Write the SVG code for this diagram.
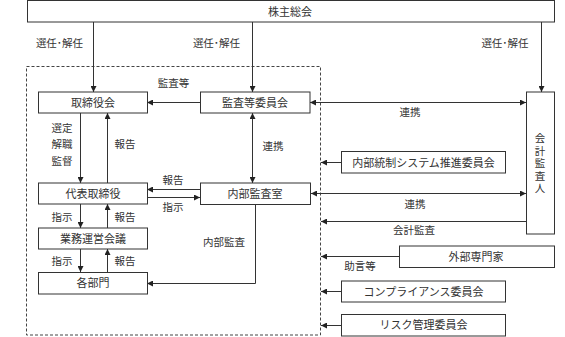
<svg xmlns="http://www.w3.org/2000/svg" width="565" height="337" viewBox="0 0 565 337">
<defs>
<marker id="ah" viewBox="0 0 6 6" refX="6" refY="3" markerWidth="6" markerHeight="6" markerUnits="userSpaceOnUse" orient="auto-start-reverse">
<path d="M0,0 L6,3 L0,6 z" fill="#222"/>
</marker>
<style>
.box{fill:#fff;stroke:#333;stroke-width:1}
.t{font-family:"Noto Sans CJK JP","Noto Sans CJK SC",sans-serif;font-size:11px;fill:#333;text-anchor:middle}
.l{font-family:"Noto Sans CJK JP","Noto Sans CJK SC",sans-serif;font-size:10.5px;fill:#333;text-anchor:middle}
.v{font-family:"Noto Sans CJK JP","Noto Sans CJK SC",sans-serif;font-size:10.5px;fill:#333;writing-mode:vertical-rl;letter-spacing:2px}
.c{fill:none;stroke:#333;stroke-width:1}
.a{marker-end:url(#ah)}
.b{marker-start:url(#ah);marker-end:url(#ah)}
.dash{fill:none;stroke:#444;stroke-width:1;stroke-dasharray:3 2}
</style>
</defs>
<rect width="565" height="337" fill="#fff"/>
<rect class="dash" x="26.5" y="66.5" width="294" height="268.5"/>

<g id="connectors">
<path class="c a" d="M93.5,22 V92"/>
<path class="c a" d="M252.5,22 V92"/>
<path class="c a" d="M541.5,22 V92"/>
<path class="c a" d="M200,102.5 H147"/>
<path class="c b" d="M310,102.5 H526"/>
<path class="c a" d="M80.5,113 V183"/>
<path class="c a" d="M107.5,183 V113"/>
<path class="c b" d="M252.5,113 V183"/>
<path class="c a" d="M200,189.5 H147"/>
<path class="c a" d="M147,197.5 H200"/>
<path class="c b" d="M311,193.5 H526"/>
<path class="c a" d="M341,162.5 H321"/>
<path class="c a" d="M526,221.5 H321"/>
<path class="c a" d="M399,256.5 H321"/>
<path class="c a" d="M341,291.5 H321"/>
<path class="c a" d="M341,325.5 H321"/>
<path class="c a" d="M80.5,204 V228"/>
<path class="c a" d="M107.5,228 V204"/>
<path class="c a" d="M80.5,249 V272"/>
<path class="c a" d="M107.5,272 V249"/>
<path class="c a" d="M255.5,204 V283.5 H147"/>
<text class="l" x="59.5" y="47">選任･解任</text>
<text class="l" x="216.5" y="47">選任･解任</text>
<text class="l" x="505" y="47">選任･解任</text>
<text class="l" x="173.5" y="87">監査等</text>
<text class="l" x="410" y="116">連携</text>
<text class="l" x="62" y="132">選定</text>
<text class="l" x="62" y="148">解職</text>
<text class="l" x="62" y="165">監督</text>
<text class="l" x="125" y="148">報告</text>
<text class="l" x="273" y="150">連携</text>
<text class="l" x="173" y="184">報告</text>
<text class="l" x="173" y="211">指示</text>
<text class="l" x="415" y="208">連携</text>
<text class="l" x="414" y="234">会計監査</text>
<text class="l" x="62" y="221">指示</text>
<text class="l" x="125" y="221">報告</text>
<text class="l" x="62" y="265">指示</text>
<text class="l" x="125" y="265">報告</text>
<text class="l" x="224" y="246">内部監査</text>
<text class="l" x="360" y="270">助言等</text>
</g>

<g id="n-shareholders"><rect class="box" x="27.5" y="0.5" width="527" height="21.5"/><text class="t" x="290" y="16">株主総会</text></g>
<g id="n-board"><rect class="box" x="38.5" y="92" width="109" height="21"/><text class="t" x="93" y="106.5">取締役会</text></g>
<g id="n-audit-committee"><rect class="box" x="200.5" y="92" width="109.5" height="21"/><text class="t" x="255" y="106.5">監査等委員会</text></g>
<g id="n-auditor"><rect class="box" x="526.5" y="92" width="28" height="142"/>
<text class="v" x="540" y="133">会計監査人</text></g>
<g id="n-internal-control"><rect class="box" x="341.5" y="151.5" width="164" height="21.5"/><text class="t" x="423.5" y="166.5" font-size="10.5">内部統制システム推進委員会</text></g>
<g id="n-ceo"><rect class="box" x="38.5" y="183" width="109" height="21"/><text class="t" x="93" y="197.5">代表取締役</text></g>
<g id="n-internal-audit"><rect class="box" x="200.5" y="183" width="110" height="21.5"/><text class="t" x="255" y="197.5">内部監査室</text></g>
<g id="n-business-meeting"><rect class="box" x="38.5" y="228" width="109" height="21"/><text class="t" x="93" y="242.5">業務運営会議</text></g>
<g id="n-departments"><rect class="box" x="38.5" y="272.5" width="109" height="21.5"/><text class="t" x="93" y="287">各部門</text></g>
<g id="n-experts"><rect class="box" x="399.5" y="246" width="155" height="21.5"/><text class="t" x="476" y="260.5">外部専門家</text></g>
<g id="n-compliance"><rect class="box" x="341.5" y="281" width="164" height="21"/><text class="t" x="423.5" y="295.5">コンプライアンス委員会</text></g>
<g id="n-risk"><rect class="box" x="341.5" y="314.5" width="164" height="21.5"/><text class="t" x="423.5" y="329">リスク管理委員会</text></g>
</svg>
